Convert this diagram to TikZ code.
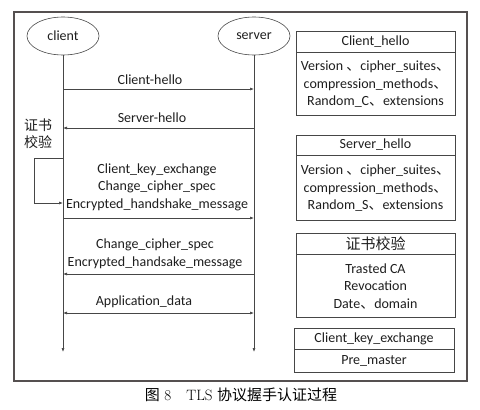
\documentclass[tikz,border=0pt]{standalone}
\usepackage{fontspec}
\newfontfamily\calib{Carlito}
\newfontfamily\cjk{Noto Sans CJK SC}
\definecolor{LineColor}{RGB}{70,70,70}
\definecolor{FrameColor}{RGB}{85,80,80}
\definecolor{TextColor}{RGB}{30,30,30}
\usetikzlibrary{positioning, arrows.meta, shapes.geometric}
\newcommand{\dun}{{\cjk 、}}
\tikzstyle{msg} = [LineColor, semithick, -{Latex[length=4pt,width=3pt]}]
\tikzstyle{both} = [LineColor, semithick, {Latex[length=4pt,width=3pt]}-{Latex[length=4pt,width=3pt]}]
\tikzstyle{life} = [LineColor, semithick, -{Latex[length=4pt,width=3pt]}]
\tikzstyle{actor} = [ellipse, draw=LineColor, semithick, minimum width=72pt, minimum height=38pt, inner sep=0pt]
\tikzstyle{head} = [draw=LineColor, semithick, minimum width=159pt, minimum height=21pt, inner sep=0pt]
\tikzstyle{body} = [draw=LineColor, semithick, minimum width=159pt, align=center, inner sep=0pt]

\begin{document}
\begin{tikzpicture}[x=1pt, y=-1pt, font=\calib\fontsize{14}{17.5}\selectfont, text=TextColor]
                \useasboundingbox (0,0) rectangle (480,410);
                % Frame
                \draw[FrameColor, line width=1.2pt] (14,12) rectangle (467,381);

                % Actors
                \node[actor] (client) at (63,36) {client};
                \node[actor] (server) at (254,36) {server};
                \coordinate (cend) at (63,352);
                \coordinate (send) at (254,352);
                \draw[life] (client) -- (cend);
                \draw[life] (server) -- (send);

                % Client-hello
                \coordinate (c1) at (63,89);
                \coordinate (s1) at (254,89);
                \draw[msg] (c1) -- (s1);
                \node (m1) at (150,80) {Client-hello};

                % Server-hello
                \coordinate (c2) at (63,128);
                \coordinate (s2) at (254,128);
                \draw[msg] (s2) -- (c2);
                \node (m2) at (152,118) {Server-hello};

                % Certificate check loop
                \node[font=\cjk\fontsize{14}{17}\selectfont, align=left] (check) at (38,134) {证书\\校验};
                \coordinate (cl1) at (63,158);
                \coordinate (cl2) at (63,203);
                \draw[msg] (cl1) -- ++(-29,0) |- (cl2);

                % Key exchange
                \coordinate (c3) at (63,218);
                \coordinate (s3) at (254,218);
                \draw[msg] (c3) -- (s3);
                \node[align=center] (m3) at (157,187) {Client\_key\_exchange\\Change\_cipher\_spec\\Encrypted\_handshake\_message};

                % Server finished
                \coordinate (c4) at (63,274);
                \coordinate (s4) at (254,274);
                \draw[msg] (s4) -- (c4);
                \node[align=center] (m4) at (155,254) {Change\_cipher\_spec\\Encrypted\_handsake\_message};

                % Application data
                \coordinate (c5) at (63,313);
                \coordinate (s5) at (254,313);
                \draw[both] (c5) -- (s5);
                \node (m5) at (144,302) {Application\_data};

                % Client_hello box
                \node[head] (chhead) at (375.5,41.5) {Client\_hello};
                \node[body, minimum height=63pt, below=0pt of chhead] (chbody) {Version \dun cipher\_suites\dun\\compression\_methods\dun\\Random\_C\dun extensions};

                % Server_hello box
                \node[head, minimum height=20pt] (shhead) at (375.5,145) {Server\_hello};
                \node[body, minimum height=65pt, below=0pt of shhead] (shbody) {Version \dun cipher\_suites\dun\\compression\_methods\dun\\Random\_S\dun extensions};

                % Certificate box
                \node[head, font=\cjk\fontsize{15}{17}\selectfont] (cahead) at (375.5,243.5) {证书校验};
                \node[body, minimum height=63pt, below=0pt of cahead] (cabody) {Trasted CA\\Revocation\\Date\dun domain};

                % Client_key_exchange box
                \node[head, minimum width=160pt] (kehead) at (374,338.5) {Client\_key\_exchange};
                \node[body, minimum width=160pt, minimum height=23pt, below=0pt of kehead] (kebody) {Pre\_master};

                % Caption
                \node[font=\fontsize{15}{17}\selectfont, text=black] (caption) at (241,395) {{\cjk 图}~8\quad TLS {\cjk 协议握手认证过程}};
            \end{tikzpicture}
\end{document}
